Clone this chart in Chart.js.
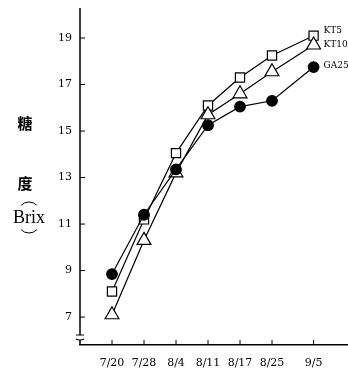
<!DOCTYPE html>
<html>
<head>
<meta charset="utf-8">
<script src="https://cdn.jsdelivr.net/npm/chart.js@4"></script>
<style>
  html, body { margin: 0; padding: 0; background: #fff; }
  #wrap { width: 348px; height: 370px; }
</style>
</head>
<body>
<div id="wrap"><canvas id="myChart" width="348" height="370"></canvas></div>
<script>
// data
const dates = ['7/20', '7/28', '8/4', '8/11', '8/17', '8/25', '9/5'];
const datePos = [0, 1, 2, 3, 4, 5, 6.3];   // last sample sits a bit further right
const kt5 = [8.1, 11.2, 14.05, 16.1, 17.3, 18.25, 19.1];
const kt10 = [7.1, 10.3, 13.2, 15.7, 16.6, 17.55, 18.7];
const ga25 = [8.85, 11.4, 13.35, 15.25, 16.05, 16.3, 17.75];
const seriesNames = ['KT5', 'KT10', 'GA25'];
const yTicks = [7, 9, 11, 13, 15, 17, 19];

const toPoints = vals => vals.map((v, i) => ({ x: datePos[i], y: v }));

// inward ticks, broken y axis, axis title and end labels
const decorations = {
  id: 'decorations',
  afterDraw(chart) {
    const ctx = chart.ctx;
    const area = chart.chartArea;
    const xs = chart.scales.x, ys = chart.scales.y;
    ctx.save();
    ctx.strokeStyle = '#000';
    ctx.fillStyle = '#000';
    ctx.lineWidth = 1.5;

    // y axis with break near the bottom
    ctx.beginPath();
    ctx.moveTo(area.left, area.top);
    ctx.lineTo(area.left, area.bottom - 10);
    ctx.moveTo(area.left, area.bottom - 5);
    ctx.lineTo(area.left, area.bottom);
    ctx.stroke();
    ctx.lineWidth = 1.2;
    ctx.beginPath();
    ctx.moveTo(area.left - 4, area.bottom - 10);
    ctx.lineTo(area.left + 4, area.bottom - 10);
    ctx.moveTo(area.left - 4, area.bottom - 6);
    ctx.quadraticCurveTo(area.left, area.bottom - 4, area.left + 4, area.bottom - 6);
    ctx.stroke();

    // inward ticks
    ctx.lineWidth = 1;
    ctx.beginPath();
    yTicks.forEach(t => {
      const py = ys.getPixelForValue(t);
      ctx.moveTo(area.left, py);
      ctx.lineTo(area.left + 5, py);
    });
    datePos.forEach(p => {
      const px = xs.getPixelForValue(p);
      ctx.moveTo(px, area.bottom);
      ctx.lineTo(px, area.bottom - 5);
    });
    ctx.stroke();

    // axis title
    ctx.textAlign = 'center';
    ctx.textBaseline = 'middle';
    ctx.font = 'bold 15px "Noto Sans CJK SC"';
    ctx.fillText('糖', 25, 123);
    ctx.fillText('度', 25, 183);
    ctx.font = '18px "Liberation Serif", serif';
    ctx.fillText('Brix', 29, 218);
    ctx.lineWidth = 1;
    ctx.beginPath();
    ctx.arc(29, 213, 11, Math.PI * 1.25, Math.PI * 1.75);
    ctx.stroke();
    ctx.beginPath();
    ctx.arc(29, 222, 11, Math.PI * 0.25, Math.PI * 0.75);
    ctx.stroke();

    // series names at the end of each line
    ctx.font = '9px "DejaVu Serif", serif';
    ctx.textAlign = 'left';
    const dy = [-5, 0, -1];
    seriesNames.forEach((name, i) => {
      const meta = chart.getDatasetMeta(chart.data.datasets.findIndex(d => d.label === name));
      const last = meta.data[meta.data.length - 1];
      ctx.fillText(name, last.x + 10, last.y + dy[i]);
    });
    ctx.restore();
  }
};

new Chart(document.getElementById('myChart'), {
  type: 'line',
  data: {
    datasets: [
      {
        label: 'GA25', data: toPoints(ga25), order: 1,
        borderColor: '#000', borderWidth: 1.2,
        pointStyle: 'circle', pointRadius: 5.3,
        pointBackgroundColor: '#000', pointBorderColor: '#000'
      },
      {
        label: 'KT10', data: toPoints(kt10), order: 2,
        borderColor: '#000', borderWidth: 1.2,
        pointStyle: 'triangle', pointRadius: 8,
        pointBackgroundColor: '#fff', pointBorderColor: '#000', pointBorderWidth: 1.2
      },
      {
        label: 'KT5', data: toPoints(kt5), order: 3,
        borderColor: '#000', borderWidth: 1.2,
        pointStyle: 'rect', pointRadius: 6.5,
        pointBackgroundColor: '#fff', pointBorderColor: '#000', pointBorderWidth: 1.2
      }
    ]
  },
  options: {
    responsive: false,
    animation: false,
    clip: false,
    layout: { autoPadding: false, padding: { top: 8, right: 0, left: 0, bottom: 0 } },
    plugins: { legend: { display: false }, tooltip: { enabled: false } },
    scales: {
      x: {
        type: 'linear',
        min: -1, max: 7.375,
        afterBuildTicks: s => { s.ticks = datePos.map(v => ({ value: v })); },
        afterFit: s => { s.height = 25; s.paddingLeft = 0; s.paddingRight = 0; },
        grid: { display: false },
        border: { display: true, color: '#000', width: 1.5 },
        ticks: {
          color: '#000', font: { family: '"DejaVu Serif", serif', size: 11 },
          padding: 4, maxRotation: 0, autoSkip: false,
          callback: v => dates[datePos.indexOf(v)]
        }
      },
      y: {
        min: 5.8, max: 20.29,
        afterBuildTicks: s => { s.ticks = yTicks.map(v => ({ value: v })); },
        afterFit: s => { s.width = 80; s.paddingTop = 0; s.paddingBottom = 0; },
        grid: { display: false },
        border: { display: false },
        ticks: {
          color: '#000', font: { family: '"DejaVu Serif", serif', size: 11 },
          padding: 0
        }
      }
    }
  },
  plugins: [decorations]
});
</script>
</body>
</html>
